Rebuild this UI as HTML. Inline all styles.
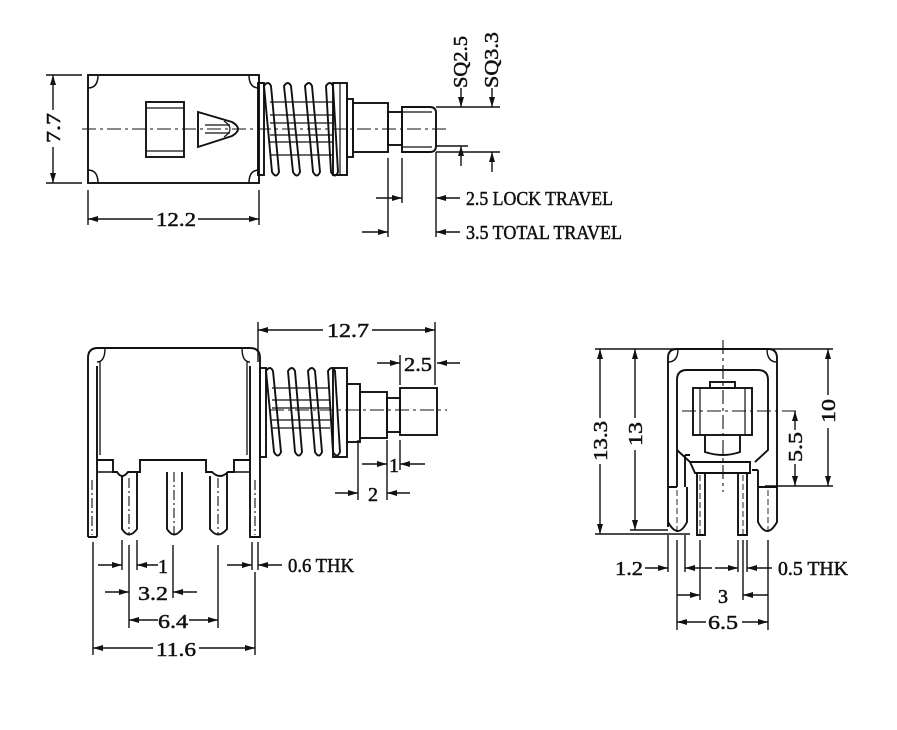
<!DOCTYPE html>
<html><head><meta charset="utf-8"><style>
html,body{margin:0;padding:0;background:#fff}
svg{display:block}
text{font-family:"Liberation Serif",serif;font-size:20px;fill:#111;stroke:#111;stroke-width:0.5}
</style></head><body>
<svg width="897" height="730" viewBox="0 0 897 730" xmlns="http://www.w3.org/2000/svg">
<defs>
<marker id="a" viewBox="0 0 10 6" refX="10" refY="3" markerWidth="10" markerHeight="6" markerUnits="userSpaceOnUse" orient="auto-start-reverse"><path d="M0,0 L10,3 L0,6 z" fill="#111"/></marker>
</defs>
<g fill="none" stroke="#111" stroke-width="1.9">
<!-- ===== TOP VIEW ===== -->
<rect x="88" y="75" width="171" height="108"/>
<path d="M88,88 q10,0 10,-13 M259,88 q-10,0 -10,-13 M88,170 q10,0 10,13 M259,170 q-10,0 -10,13" stroke-width="1.5"/>
<rect x="146" y="102" width="38" height="55"/>
<line x1="146" y1="108" x2="184" y2="108" stroke-width="1.2"/>
<line x1="146" y1="151" x2="184" y2="151" stroke-width="1.2"/>
<path d="M198,112 L198,147 L232,136 Q244,129 232,122 Z"/>
<path d="M205,125 L230,125 M205,133 L230,133" stroke-width="1.2"/>
<path d="M224,121 Q236,129 224,137" stroke-width="1.2"/>
<line x1="82" y1="129" x2="450" y2="129" stroke-width="1.1" stroke-dasharray="14,4,3,4"/>
<line x1="46" y1="75" x2="82" y2="75" stroke-width="1.4"/>
<line x1="46" y1="183" x2="82" y2="183" stroke-width="1.4"/>
<line x1="53" y1="110" x2="53" y2="75" marker-end="url(#a)" stroke-width="1.4"/>
<line x1="53" y1="147" x2="53" y2="183" marker-end="url(#a)" stroke-width="1.4"/>
<rect x="258" y="83" width="6" height="92"/>
<path d="M270,102 H333 M270,115 H333 M270,123 H333 M270,135 H333 M270,142 H333 M270,155 H333" stroke-width="1.3"/>
<path d="M264,86 Q268,80 271,86 L279,172 Q276,179 272,172 Z"/>
<path d="M284,86 Q288,80 291,86 L300,172 Q297,179 293,172 Z"/>
<path d="M305,86 Q309,80 312,86 L320,172 Q317,179 313,172 Z"/>
<path d="M326,86 Q330,80 333,86 L338,172 Q335,179 331,172 Z"/>
<rect x="333" y="83" width="14" height="92"/>
<line x1="340" y1="83" x2="340" y2="175" stroke-width="1.2"/>
<rect x="347" y="99" width="6" height="58"/>
<rect x="353" y="103" width="35" height="49"/>
<rect x="388" y="112" width="14" height="33"/>
<path d="M402,107 H430 Q436,107 436,113 V146 Q436,152 430,152 H402 Z"/>
<path d="M402,112 H432 M402,147 H432" stroke-width="1.2"/>
<line x1="436" y1="107" x2="500" y2="107" stroke-width="1.4"/>
<line x1="436" y1="146" x2="468" y2="146" stroke-width="1.4"/>
<line x1="436" y1="152" x2="500" y2="152" stroke-width="1.4"/>
<line x1="461" y1="88" x2="461" y2="107" marker-end="url(#a)" stroke-width="1.4"/>
<line x1="461" y1="166" x2="461" y2="146" marker-end="url(#a)" stroke-width="1.4"/>
<line x1="492" y1="88" x2="492" y2="107" marker-end="url(#a)" stroke-width="1.4"/>
<line x1="492" y1="172" x2="492" y2="152" marker-end="url(#a)" stroke-width="1.4"/>
<line x1="388" y1="158" x2="388" y2="237" stroke-width="1.4"/>
<line x1="402" y1="158" x2="402" y2="203" stroke-width="1.4"/>
<line x1="436" y1="152" x2="436" y2="237" stroke-width="1.4"/>
<line x1="376" y1="198" x2="402" y2="198" marker-end="url(#a)" stroke-width="1.4"/>
<line x1="460" y1="198" x2="436" y2="198" marker-end="url(#a)" stroke-width="1.4"/>
<line x1="362" y1="232" x2="388" y2="232" marker-end="url(#a)" stroke-width="1.4"/>
<line x1="460" y1="232" x2="436" y2="232" marker-end="url(#a)" stroke-width="1.4"/>
<line x1="88" y1="190" x2="88" y2="225" stroke-width="1.4"/>
<line x1="259" y1="190" x2="259" y2="225" stroke-width="1.4"/>
<line x1="153" y1="219" x2="88" y2="219" marker-end="url(#a)" stroke-width="1.4"/>
<line x1="198" y1="219" x2="259" y2="219" marker-end="url(#a)" stroke-width="1.4"/>

<!-- ===== FRONT VIEW ===== -->
<path d="M88,537 V358 Q88,348 98,348 H250 Q260,348 260,358 V537 H250 V366"/>
<path d="M97,537 V366 M97,537 H88"/>
<path d="M97,362 q8,0 8,-14 M250,362 q-8,0 -8,-14" stroke-width="1.4"/>
<line x1="100" y1="362" x2="100" y2="455" stroke-width="1.3"/>
<line x1="247" y1="362" x2="247" y2="455" stroke-width="1.3"/>
<path d="M97,460 H113 V472 H117 Q122,480 128,472 H137 V472 M137,472 H140 V460 H206 V472 H212 Q220,480 228,472 H234 V460 H250"/>
<path d="M97,472 H117 M228,472 H250" stroke-width="1.4"/>
<path d="M122,476 V529 Q129,540 137,529 V472"/>
<path d="M167,472 V529 Q174,540 182,529 V472"/>
<path d="M210,476 V529 Q218,540 227,529 V472"/>
<g stroke-width="1.1" stroke-dasharray="10,3,2,3"><line x1="129" y1="478" x2="129" y2="535"/><line x1="174" y1="472" x2="174" y2="535"/><line x1="218" y1="478" x2="218" y2="535"/><line x1="92" y1="480" x2="92" y2="535"/><line x1="255" y1="480" x2="255" y2="535"/></g>
<rect x="260" y="368" width="6" height="89"/>
<path d="M272,388 H330 M272,400 H330 M272,408 H330 M272,420 H330 M272,428 H330" stroke-width="1.3"/>
<path d="M266,371 Q270,365 273,371 L281,452 Q278,459 274,452 Z"/>
<path d="M288,371 Q292,365 295,371 L302,452 Q299,459 295,452 Z"/>
<path d="M308,371 Q312,365 315,371 L322,452 Q319,459 315,452 Z"/>
<path d="M328,371 Q332,365 335,371 L340,452 Q337,459 333,452 Z"/>
<rect x="333" y="368" width="14" height="89"/>
<rect x="347" y="384" width="13" height="58"/>
<rect x="360" y="392" width="27" height="46"/>
<rect x="387" y="398" width="13" height="34"/>
<rect x="400" y="388" width="37" height="47"/>
<line x1="270" y1="410" x2="447" y2="410" stroke-width="1.1" stroke-dasharray="14,4,3,4"/>
<g stroke-width="1.4">
<line x1="258" y1="322" x2="258" y2="362"/>
<line x1="435" y1="322" x2="435" y2="385"/>
<line x1="323" y1="330" x2="258" y2="330" marker-end="url(#a)"/>
<line x1="372" y1="330" x2="435" y2="330" marker-end="url(#a)"/>
<line x1="400" y1="355" x2="400" y2="385"/>
<line x1="377" y1="363" x2="400" y2="363" marker-end="url(#a)"/>
<line x1="460" y1="363" x2="437" y2="363" marker-end="url(#a)"/>
<line x1="358" y1="440" x2="358" y2="500"/>
<line x1="387" y1="440" x2="387" y2="500"/>
<line x1="400" y1="440" x2="400" y2="470"/>
<line x1="362" y1="464" x2="387" y2="464" marker-end="url(#a)"/>
<line x1="425" y1="464" x2="400" y2="464" marker-end="url(#a)"/>
<line x1="335" y1="493" x2="358" y2="493" marker-end="url(#a)"/>
<line x1="410" y1="493" x2="387" y2="493" marker-end="url(#a)"/>
<line x1="93" y1="542" x2="93" y2="655"/>
<line x1="122" y1="540" x2="122" y2="570"/>
<line x1="137" y1="540" x2="137" y2="570"/>
<line x1="129" y1="545" x2="129" y2="628"/>
<line x1="173" y1="545" x2="173" y2="598"/>
<line x1="218" y1="545" x2="218" y2="628"/>
<line x1="252" y1="542" x2="252" y2="570"/>
<line x1="258" y1="542" x2="258" y2="570"/>
<line x1="255" y1="572" x2="255" y2="655"/>
<line x1="98" y1="565" x2="122" y2="565" marker-end="url(#a)"/>
<line x1="158" y1="565" x2="137" y2="565" marker-end="url(#a)"/>
<line x1="105" y1="592" x2="129" y2="592" marker-end="url(#a)"/>
<line x1="197" y1="592" x2="173" y2="592" marker-end="url(#a)"/>
<line x1="158" y1="620" x2="129" y2="620" marker-end="url(#a)"/>
<line x1="189" y1="620" x2="218" y2="620" marker-end="url(#a)"/>
<line x1="153" y1="648" x2="93" y2="648" marker-end="url(#a)"/>
<line x1="199" y1="648" x2="255" y2="648" marker-end="url(#a)"/>
<line x1="227" y1="565" x2="252" y2="565" marker-end="url(#a)"/>
<line x1="282" y1="565" x2="258" y2="565" marker-end="url(#a)"/>
</g>

<!-- ===== SIDE VIEW ===== -->
<line x1="595" y1="349" x2="833" y2="349" stroke-width="1.4"/>
<path d="M668,527 V358 Q668,349 677,349 H768 Q777,349 777,358 V487"/>
<path d="M668,362 q10,0 10,-13 M777,362 q-10,0 -10,-13" stroke-width="1.4"/>
<path d="M677,487 H668 M687,487 V522 Q678,540 668,522"/>
<path d="M758,487 V522 Q767,540 777,522 V487 H758"/>
<path d="M677,487 V380 Q677,370 687,370 H758 Q768,370 768,380 V450 L755,462 M677,450 L690,462"/>
<path d="M685,487 V455 M758,487 V470 M752,470 H758 M685,455 H690"/>
<path d="M690,462 H750 V473 H695 Z"/>
<rect x="693" y="388" width="59" height="47"/>
<rect x="710" y="382" width="25" height="6"/>
<path d="M700,388 V435 M745,388 V435" stroke-width="1.2"/>
<path d="M705,435 V452 Q723,458 740,452 V435"/>
<path d="M697,473 V535 H705 V473 M738,473 V535 H747 V473"/>
<path d="M700,475 V535 M743,475 V535" stroke-width="0.9" stroke-dasharray="6,3"/>
<line x1="723" y1="340" x2="723" y2="492" stroke-width="1.1" stroke-dasharray="14,4,3,4"/>
<line x1="682" y1="411" x2="800" y2="411" stroke-width="1.1" stroke-dasharray="14,4,3,4"/>
<line x1="677" y1="490" x2="677" y2="530" stroke-width="0.9" stroke-dasharray="6,3"/>
<line x1="768" y1="490" x2="768" y2="530" stroke-width="0.9" stroke-dasharray="6,3"/>
<g stroke-width="1.4">
<line x1="595" y1="534" x2="690" y2="534"/>
<line x1="630" y1="530" x2="668" y2="530"/>
<line x1="765" y1="486" x2="833" y2="486"/>
<line x1="600" y1="418" x2="600" y2="349" marker-end="url(#a)"/>
<line x1="600" y1="464" x2="600" y2="534" marker-end="url(#a)"/>
<line x1="635" y1="418" x2="635" y2="349" marker-end="url(#a)"/>
<line x1="635" y1="450" x2="635" y2="530" marker-end="url(#a)"/>
<line x1="828" y1="395" x2="828" y2="349" marker-end="url(#a)"/>
<line x1="828" y1="428" x2="828" y2="486" marker-end="url(#a)"/>
<line x1="795" y1="430" x2="795" y2="411" marker-end="url(#a)"/>
<line x1="795" y1="464" x2="795" y2="486" marker-end="url(#a)"/>
<line x1="668" y1="535" x2="668" y2="572"/>
<line x1="685" y1="535" x2="685" y2="572"/>
<line x1="677" y1="540" x2="677" y2="630"/>
<line x1="700" y1="540" x2="700" y2="600"/>
<line x1="743" y1="540" x2="743" y2="600"/>
<line x1="768" y1="540" x2="768" y2="630"/>
<line x1="738" y1="540" x2="738" y2="572"/>
<line x1="747" y1="540" x2="747" y2="572"/>
<line x1="645" y1="568" x2="668" y2="568" marker-end="url(#a)"/>
<line x1="712" y1="568" x2="685" y2="568" marker-end="url(#a)"/>
<line x1="715" y1="568" x2="738" y2="568" marker-end="url(#a)"/>
<line x1="772" y1="568" x2="747" y2="568" marker-end="url(#a)"/>
<line x1="677" y1="595" x2="700" y2="595" marker-end="url(#a)"/>
<line x1="768" y1="595" x2="743" y2="595" marker-end="url(#a)"/>
<line x1="706" y1="622" x2="677" y2="622" marker-end="url(#a)"/>
<line x1="742" y1="622" x2="768" y2="622" marker-end="url(#a)"/>
</g>
</g>

<text x="60" y="128" text-anchor="middle" transform="rotate(-90 60 128)" textLength="30" lengthAdjust="spacingAndGlyphs">7.7</text>
<text x="467" y="62" text-anchor="middle" transform="rotate(-90 467 62)" textLength="52" lengthAdjust="spacingAndGlyphs">SQ2.5</text>
<text x="498" y="60" text-anchor="middle" transform="rotate(-90 498 60)" textLength="56" lengthAdjust="spacingAndGlyphs">SQ3.3</text>
<text x="466" y="205" textLength="147" lengthAdjust="spacingAndGlyphs">2.5 LOCK TRAVEL</text>
<text x="466" y="239" textLength="156" lengthAdjust="spacingAndGlyphs">3.5 TOTAL TRAVEL</text>
<text x="176" y="226" text-anchor="middle" textLength="40" lengthAdjust="spacingAndGlyphs">12.2</text>
<text x="348" y="337" text-anchor="middle" textLength="42" lengthAdjust="spacingAndGlyphs">12.7</text>
<text x="418" y="371" text-anchor="middle" textLength="28" lengthAdjust="spacingAndGlyphs">2.5</text>
<text x="394" y="472" text-anchor="middle">1</text>
<text x="373" y="501" text-anchor="middle">2</text>
<text x="163" y="573" text-anchor="middle">1</text>
<text x="153" y="600" text-anchor="middle" textLength="30" lengthAdjust="spacingAndGlyphs">3.2</text>
<text x="173" y="628" text-anchor="middle" textLength="30" lengthAdjust="spacingAndGlyphs">6.4</text>
<text x="176" y="656" text-anchor="middle" textLength="40" lengthAdjust="spacingAndGlyphs">11.6</text>
<text x="288" y="572" textLength="66" lengthAdjust="spacingAndGlyphs">0.6 THK</text>
<text x="607" y="441" text-anchor="middle" transform="rotate(-90 607 441)" textLength="40" lengthAdjust="spacingAndGlyphs">13.3</text>
<text x="642" y="434" text-anchor="middle" transform="rotate(-90 642 434)" textLength="24" lengthAdjust="spacingAndGlyphs">13</text>
<text x="835" y="411" text-anchor="middle" transform="rotate(-90 835 411)" textLength="24" lengthAdjust="spacingAndGlyphs">10</text>
<text x="802" y="447" text-anchor="middle" transform="rotate(-90 802 447)" textLength="30" lengthAdjust="spacingAndGlyphs">5.5</text>
<text x="643" y="575" text-anchor="end" textLength="28" lengthAdjust="spacingAndGlyphs">1.2</text>
<text x="723" y="603" text-anchor="middle">3</text>
<text x="723" y="629" text-anchor="middle" textLength="30" lengthAdjust="spacingAndGlyphs">6.5</text>
<text x="778" y="575" textLength="70" lengthAdjust="spacingAndGlyphs">0.5 THK</text>
</svg>
</body></html>
